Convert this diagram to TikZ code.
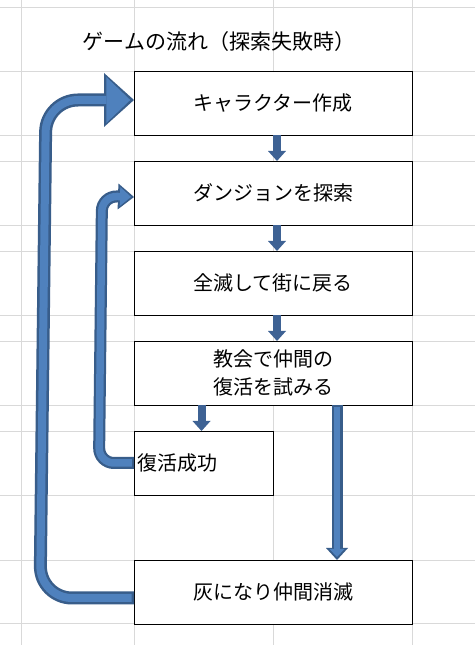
\documentclass[tikz,border=0pt]{standalone}
\usepackage{fontspec}
\setmainfont{Noto Sans CJK JP}
\usetikzlibrary{positioning, arrows.meta}
\definecolor{gridclr}{RGB}{217,217,217}
\definecolor{arwedge}{RGB}{56,93,138}
\definecolor{arwfill}{RGB}{79,129,189}
\definecolor{arwdark}{RGB}{62,98,148}

\begin{document}
\begin{tikzpicture}[
    x=1pt, y=1pt,
    font=\fontsize{20}{28}\selectfont,
    node distance=26pt,
    box/.style     ={draw, fill=white, line width=0.8pt, outer sep=0pt,
                     minimum width=278pt, minimum height=64pt,
                     inner sep=3pt, align=center},
    revbox/.style  ={box, minimum width=139pt, text width=133pt, align=left},
    stepdown/.style={line width=8pt, arwdark,
                     -{Triangle[width=18pt, length=10pt, line width=0pt]}},
    longout/.style ={line width=11pt, arwedge,
                     -{Triangle[width=22pt, length=12pt, line width=0pt]}},
    longin/.style  ={line width=6.5pt, arwfill, shorten <=2.2pt, shorten >=3pt,
                     -{Triangle[width=15pt, length=8pt, line width=0pt]}},
    bigout/.style  ={line width=13pt, arwedge, rounded corners=32pt,
                     -{Triangle[width=54pt, length=30pt, line width=0pt]}},
    bigin/.style   ={line width=8pt, arwfill, rounded corners=32pt,
                     shorten <=2.5pt, shorten >=3.7pt,
                     -{Triangle[width=46pt, length=24pt, line width=0pt]}},
    smallout/.style={line width=12pt, arwedge, rounded corners=15pt,
                     -{Triangle[width=26pt, length=16pt, line width=0pt]}},
    smallin/.style ={line width=7.5pt, arwfill, rounded corners=15pt,
                     shorten <=2.2pt, shorten >=3pt,
                     -{Triangle[width=19pt, length=11pt, line width=0pt]}},
]

% =============== Sheet background ===============
\fill[white] (0,0) rectangle (475,645);
\useasboundingbox (0,0) rectangle (475,645);
\foreach \gx in {21, 134, 273, 412}{%
  \draw[gridclr, line width=0.8pt] (\gx,0) -- (\gx,645);
}
\foreach \gy in {638, 574, 510, 484, 420, 394, 330, 304, 240, 214, 150, 85, 22}{%
  \draw[gridclr, line width=0.8pt] (0,\gy) -- (475,\gy);
}

% =============== Title ===============
\node[font=\fontsize{21}{25}\selectfont] (title) at (219,603) {ゲームの流れ（探索失敗時）};

% =============== Flow boxes ===============
\node[box] (chara) at (273,542) {キャラクター作成};
\node[box, below=of chara]   (dungeon) {ダンジョンを探索};
\node[box, below=of dungeon] (wipe)    {全滅して街に戻る};
\node[box, below=of wipe]    (church)  {教会で仲間の\\復活を試みる};
\node[revbox, below right=26pt and 0pt of church.south west] (revive) {復活成功};
\node[box, below=155pt of church] (ash) {灰になり仲間消滅};

% =============== Short arrows ===============
\foreach \src/\dst in {chara/dungeon, dungeon/wipe, wipe/church}{%
  \draw[stepdown] ([xshift=4pt]\src.south) -- ([xshift=4pt]\dst.north);
}
\draw[stepdown] ([xshift=-2pt]revive.north |- church.south) -- ([xshift=-2pt]revive.north);

% =============== Failure arrow ===============
\draw[longout] ([xshift=64pt]church.south) -- ([xshift=64pt]ash.north);
\draw[longin]  ([xshift=64pt]church.south) -- ([xshift=64pt]ash.north);

% =============== Return loops ===============
\draw[smallout] (revive.west) -- ++(-35pt,0) -- ++(3pt,267pt) -- ([yshift=-4pt]dungeon.west);
\draw[smallin]  (revive.west) -- ++(-35pt,0) -- ++(3pt,267pt) -- ([yshift=-4pt]dungeon.west);

\draw[bigout] ([yshift=-6pt]ash.west) -- ++(-94pt,0) -- ++(6pt,498pt) -- ([yshift=3pt]chara.west);
\draw[bigin]  ([yshift=-6pt]ash.west) -- ++(-94pt,0) -- ++(6pt,498pt) -- ([yshift=3pt]chara.west);

\end{tikzpicture}
\end{document}
